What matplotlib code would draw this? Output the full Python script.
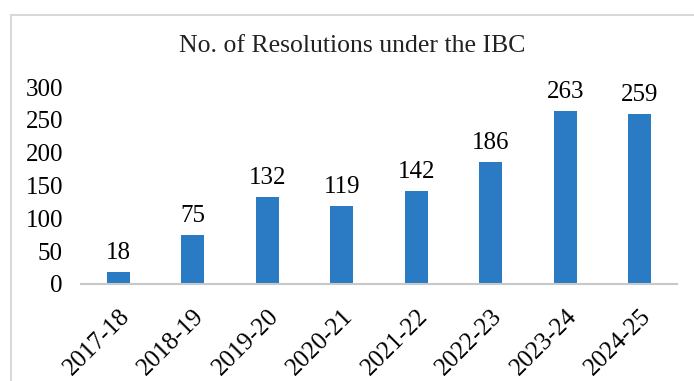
import matplotlib
matplotlib.use('Agg')
import matplotlib.pyplot as plt
from matplotlib.lines import Line2D

# Data
years = ['2017-18', '2018-19', '2019-20', '2020-21', '2021-22', '2022-23', '2023-24', '2024-25']
resolutions = [18, 75, 132, 119, 142, 186, 263, 259]
yticks = [0, 50, 100, 150, 200, 250, 300]

plt.rcParams['font.family'] = ['Liberation Serif', 'DejaVu Serif']

W, H = 694, 381
fig = plt.figure(figsize=(W / 100, H / 100), dpi=100, facecolor='white')

# Frame around the chart (cut off at right and bottom)
fig.add_artist(Line2D([11 / W, 11 / W], [0, 1 - 15 / H], transform=fig.transFigure,
                      color='#d9d9d9', lw=1.5))
fig.add_artist(Line2D([11 / W, 1], [1 - 15 / H, 1 - 15 / H], transform=fig.transFigure,
                      color='#d9d9d9', lw=1.5))

ax = fig.add_axes([81 / W, 97 / H, (677 - 81) / W, (284 - 87) / H])
x = range(len(years))
bars = ax.bar(x, resolutions, width=0.31, color='#2B7BC4')

for xi, v in zip(x, resolutions):
    ax.text(xi, v + 12, str(v), ha='center', va='bottom', fontsize=18, clip_on=False)

ax.set_xlim(-0.5, len(years) - 0.5)
ax.set_ylim(0, 300)
ax.set_yticks(yticks)
ax.set_yticklabels([str(t) for t in yticks], fontsize=18)
ax.set_xticks(list(x))
ax.set_xticklabels(years, fontsize=18, rotation=45, ha='right', rotation_mode='anchor')
ax.tick_params(axis='both', length=0)
ax.tick_params(axis='y', pad=13)
ax.tick_params(axis='x', pad=15)

for s in ['top', 'right', 'left']:
    ax.spines[s].set_visible(False)
ax.spines['bottom'].set_color('#c8c8c8')
ax.spines['bottom'].set_linewidth(1.5)

fig.text(0.5 + 5 / W, 1 - 46 / H, 'No. of Resolutions under the IBC', ha='center', va='center',
         fontsize=18.5, color='#222222')

fig.savefig('out.png', dpi=100)
